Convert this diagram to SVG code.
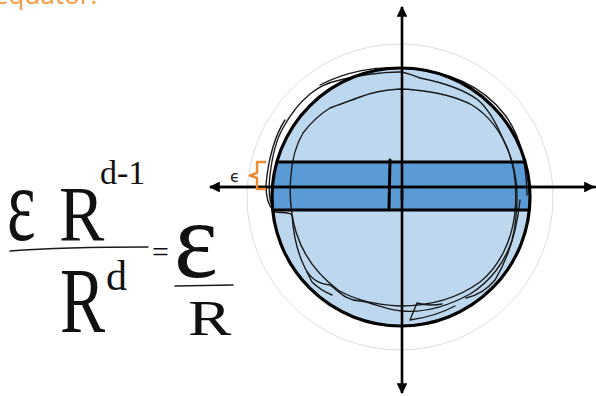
<svg xmlns="http://www.w3.org/2000/svg" width="596" height="396" viewBox="0 0 596 396">
<style>
.ink{fill:none;stroke:#1a1a1a;stroke-width:1.4;stroke-linecap:round;stroke-linejoin:round}
.axis{stroke:#000;stroke-width:2.6;fill:none}
.hand{font-family:"Liberation Serif",serif;fill:#111}
.orange{fill:#F39A45;font-family:"Open Sans","Liberation Sans",sans-serif}
</style>
<defs>
<marker id="ah" viewBox="0 0 10 10" refX="9" refY="5" markerWidth="4.2" markerHeight="4.2" orient="auto-start-reverse" markerUnits="strokeWidth">
<path d="M0,0 L10,5 L0,10 Z" fill="#000"/>
</marker>
<clipPath id="disc"><circle cx="401" cy="197" r="129"/></clipPath>
</defs>
<rect width="596" height="396" fill="#fff"/>
<text class="orange" x="-6" y="4" font-size="26">equator.</text>

<g id="equation">
<text class="hand" font-size="105" transform="translate(7,240) scale(0.65,1)">ε</text>
<text class="hand" font-size="78" transform="translate(59,240) scale(0.87,1)">R</text>
<text class="hand" x="100" y="184" font-size="34">d-1</text>
<path class="ink" d="M10,251 C50,248 100,247 148,247"/>
<text class="hand" font-size="94" transform="translate(60,332) scale(0.72,1)">R</text>
<text class="hand" x="106" y="290" font-size="42">d</text>
<text class="hand" x="152" y="262" font-size="30">=</text>
<text class="hand" font-size="110" transform="translate(174,277) scale(0.95,1)">ε</text>
<path class="ink" d="M175,286 L233,285"/>
<text class="hand" font-size="50" transform="translate(188,335) scale(1.3,1)">R</text>
</g>

<g id="outer-guide">
<circle cx="400" cy="197" r="153" fill="none" stroke="#d4d4d4" stroke-width="0.8"/>
</g>

<g id="sphere">
<circle cx="401" cy="197" r="129" fill="#BDD7EE"/>
<rect x="270" y="162" width="262" height="48" fill="#5B9BD5" clip-path="url(#disc)"/>
<path class="ink" d="M400,72 C380,72 355,76 340,80 C325,83 318,88 310,94 C298,104 290,115 283,128 C276,140 272,158 270,175 C268,192 270,205 275,212 C282,213 290,212 292,215 C293,230 296,250 305,268 C310,278 318,284 330,285 C340,292 345,300 360,301 C375,303 385,310 402,311 C425,313 450,305 470,294 C490,282 505,262 512,240 C516,225 517,210 517,195 C517,178 514,165 508,150 C500,132 492,112 478,100 C462,88 440,82 420,78 C412,75 405,72 400,72 Z"/>
<path class="ink" d="M400,89 C385,90 370,93 360,97 C350,101 340,104 330,108 C320,114 313,120 303,133 C296,145 292,160 291,175 C289,195 291,215 296,232 C303,255 318,275 338,290 C355,300 378,305 400,306 C430,306 458,298 480,282 C500,266 512,240 515,212 C517,190 515,168 508,150 C500,130 488,115 472,105 C455,96 435,92 415,90 C408,89 404,89 400,89 Z"/>
<path class="ink" d="M320,85 C345,72 375,66 402,68 C440,70 480,82 505,115 C520,135 526,160 527,195"/>
<path class="ink" d="M285,120 C275,135 268,160 266,185 C266,195 268,205 273,210"/>
<path class="ink" d="M520,200 C517,230 510,255 495,280 C485,292 475,296 466,298"/>
<path class="ink" d="M442,304 C432,306 424,305 417,303 L410,320 C425,318 440,314 455,306"/>
<path class="ink" d="M307,272 L312,282 C318,288 325,292 332,295"/>
<path d="M270,162 H532 M270,210 H532" stroke="#000" stroke-width="3" clip-path="url(#disc)"/>
<circle cx="401" cy="197" r="129" fill="none" stroke="#000" stroke-width="3.2"/>
<path d="M390,160 L389,208" stroke="#000" stroke-width="3" stroke-linecap="round"/>
</g>

<g id="connectors">
<path class="axis" d="M596,187 H210" marker-end="url(#ah)"/>
<path class="axis" d="M210,187 H594" marker-end="url(#ah)"/>
<path class="axis" d="M402,200 V7" marker-end="url(#ah)"/>
<path class="axis" d="M402,190 V393" marker-end="url(#ah)"/>
</g>

<g id="epsilon-label">
<path d="M266,162 H257 V173 L250,175.5 L257,178 V189 H266" fill="none" stroke="#F08A30" stroke-width="2.4" stroke-linejoin="round"/>
<text x="230" y="182" font-size="16" font-family="DejaVu Sans,sans-serif" fill="#222">ϵ</text>
</g>
</svg>
